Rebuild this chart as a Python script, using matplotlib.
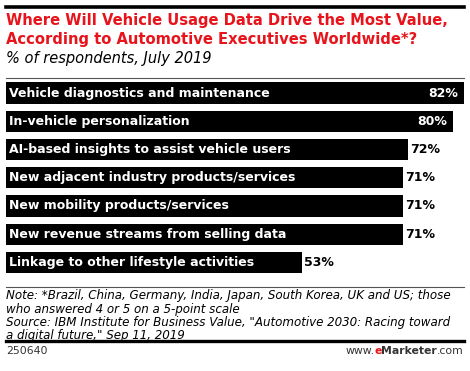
import matplotlib
matplotlib.use("Agg")
import matplotlib.pyplot as plt
from matplotlib.lines import Line2D

categories = [
    "Vehicle diagnostics and maintenance",
    "In-vehicle personalization",
    "AI-based insights to assist vehicle users",
    "New adjacent industry products/services",
    "New mobility products/services",
    "New revenue streams from selling data",
    "Linkage to other lifestyle activities",
]
values = [82, 80, 72, 71, 71, 71, 53]

W, H = 470, 371
fig = plt.figure(figsize=(W / 100, H / 100), dpi=100)

def fx(px):
    return px / W

def fy(py):
    return 1 - py / H

top_px, bot_px = 78.9, 276.6
ax = fig.add_axes([fx(6), fy(bot_px), fx(458), (bot_px - top_px) / H])
ax.set_xlim(0, 82)
ax.set_ylim(len(values) - 0.5, -0.5)
ax.axis("off")

ys = list(range(len(values)))
ax.barh(ys, values, height=0.76, color="black")

bold = dict(family="DejaVu Sans", weight="bold")
for y, cat, v in zip(ys, categories, values):
    ax.text(0.5, y, cat, color="white", fontsize=9, va="center", ha="left", **bold)
    if v >= 80:
        ax.text(v - 1.0, y, f"{v}%", color="white", fontsize=9, va="center", ha="right", **bold)
    else:
        ax.text(v + 0.4, y, f"{v}%", color="black", fontsize=9, va="center", ha="left", **bold)

fig.add_artist(Line2D([fx(6), fx(464)], [fy(7), fy(7)], color="black", lw=2.6))
fig.add_artist(Line2D([fx(6), fx(464)], [fy(78), fy(78)], color="#555555", lw=0.8))
fig.add_artist(Line2D([fx(6), fx(464)], [fy(287), fy(287)], color="#555555", lw=0.8))
fig.add_artist(Line2D([fx(6), fx(464)], [fy(340.5), fy(340.5)], color="black", lw=2.4))

red = "#e8141b"
fig.text(fx(6), fy(21), "Where Will Vehicle Usage Data Drive the Most Value,",
         color=red, fontsize=10.65, va="center", ha="left", **bold)
fig.text(fx(6), fy(39.5), "According to Automotive Executives Worldwide*?",
         color=red, fontsize=10.65, va="center", ha="left", **bold)
fig.text(fx(6), fy(59), "% of respondents, July 2019", color="black", fontsize=10.5,
         style="italic", va="center", ha="left", family="DejaVu Sans")

note = ("Note: *Brazil, China, Germany, India, Japan, South Korea, UK and US; those\n"
        "who answered 4 or 5 on a 5-point scale\n"
        "Source: IBM Institute for Business Value, \"Automotive 2030: Racing toward\n"
        "a digital future,\" Sep 11, 2019")
fig.text(fx(6), fy(289.5), note, color="black", fontsize=8.6, style="italic",
         va="top", ha="left", family="DejaVu Sans", linespacing=1.02)

fs = 7.8
fig.text(fx(6), fy(351), "250640", color="#333333", fontsize=fs, va="center", ha="left",
         family="DejaVu Sans")
t_www = fig.text(fx(464), fy(351), "www.", color="#333333", fontsize=fs, va="center",
                 ha="right", family="DejaVu Sans")
t1 = fig.text(fx(464), fy(351), ".com", color="#333333", fontsize=fs, va="center", ha="right",
              family="DejaVu Sans")
fig.canvas.draw()
r = fig.canvas.get_renderer()
bb = t1.get_window_extent(r)
t2 = fig.text(bb.x0 / W, fy(351), "Marketer", color="#333333", fontsize=fs, va="center",
              ha="right", family="DejaVu Sans", weight="bold")
bb2 = t2.get_window_extent(r)
t3 = fig.text(bb2.x0 / W, fy(351), "e", color=red, fontsize=fs, va="center", ha="right",
              family="DejaVu Sans", weight="bold")
bb3 = t3.get_window_extent(r)
t_www.set_x(bb3.x0 / W)

fig.savefig("out.png", dpi=100)
